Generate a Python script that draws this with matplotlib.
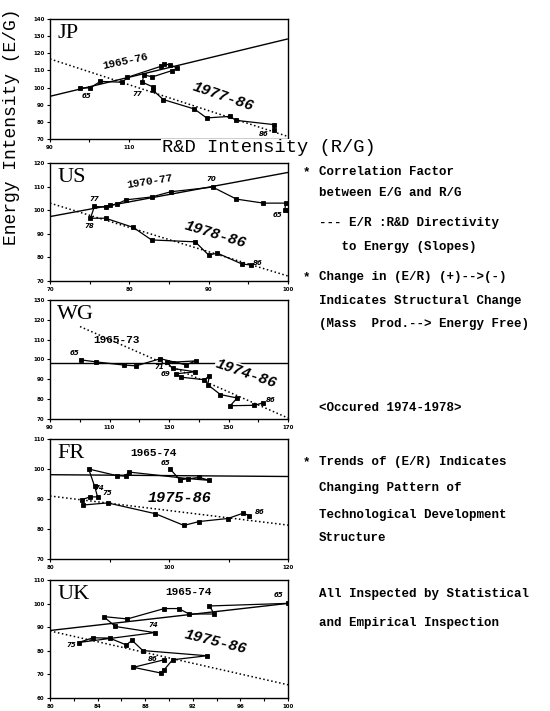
import numpy as np
import matplotlib.pyplot as plt

MONO = 'Liberation Mono'
SERIF = 'Liberation Serif'

# ---- JP ----
jp_x = [97.7, 100.2, 102.8, 108.4, 109.7, 118.2, 118.9, 120.5, 122.4, 121.0, 116.0,
        113.8, 113.5, 116.2, 116.2, 118.8, 126.7, 129.8, 135.8, 137.2, 146.9, 147.0]
jp_y = [99.8, 99.8, 103.6, 103.1, 106.0, 112.4, 113.8, 113.2, 111.4, 109.9, 106.2,
        107.5, 103.1, 100.3, 98.4, 93.0, 87.5, 82.3, 83.2, 80.9, 78.4, 75.1]
jp_fit_x, jp_fit_y = [90, 150.3], [94.9, 128.3]
jp_trend_x, jp_trend_y = [90, 150.3], [116.7, 71.6]

# ---- US ----
us_x = [100.0, 99.6, 99.7, 96.9, 93.5, 90.5, 85.2, 82.8, 79.6, 78.5, 77.5, 77.0,
        75.6, 75.1, 77.0, 80.5, 82.8, 88.3, 90.0, 91.1, 94.2, 95.3]
us_y = [99.9, 99.9, 103.0, 103.0, 104.7, 109.8, 107.8, 105.6, 104.4, 102.7, 102.0, 101.3,
        101.6, 96.6, 96.6, 92.7, 87.4, 86.6, 81.0, 81.8, 77.2, 76.8]
us_fit_x, us_fit_y = [70, 100], [97.3, 116.0]
us_trend_x, us_trend_y = [70, 100], [103.0, 72.1]

# ---- WG ----
wg_x = [100.4, 105.5, 114.8, 118.9, 127.1, 135.7, 139.1, 129.3, 131.2, 138.9, 132.4,
        134.0, 141.9, 143.6, 143.0, 147.3, 152.9, 150.6, 158.7, 161.5]
wg_y = [99.8, 98.8, 97.2, 96.8, 100.4, 97.3, 99.3, 98.5, 95.5, 93.8, 92.8,
        91.1, 89.8, 91.8, 87.3, 82.3, 80.6, 76.7, 76.9, 78.1]
wg_fit_x, wg_fit_y = [90, 170], [98.2, 98.2]
wg_trend_x, wg_trend_y = [100.1, 170], [116.6, 70.5]

# ---- FR ----
fr_x = [100.2, 101.8, 105.1, 106.8, 103.2, 93.2, 92.7, 91.2, 86.5, 87.5, 88.0,
        86.7, 85.4, 85.6, 89.7, 97.7, 102.5, 105.1, 109.9, 112.5, 113.5]
fr_y = [100.0, 96.4, 97.2, 96.2, 96.8, 99.0, 97.6, 97.8, 100.0, 94.2, 90.7,
        90.7, 89.8, 88.0, 88.7, 85.1, 81.2, 82.5, 83.5, 85.3, 84.4]
fr_fit_x, fr_fit_y = [80, 120], [98.1, 97.5]
fr_trend_x, fr_trend_y = [80, 120], [91.0, 81.3]

# ---- UK ----
uk_x = [100.0, 93.4, 93.8, 91.7, 90.8, 89.6, 86.5, 84.5, 85.5, 88.8, 82.4,
        83.6, 85.0, 86.4, 86.9, 87.8, 93.2, 90.3, 89.6, 89.3, 87.0, 89.6]
uk_y = [100.1, 99.0, 95.6, 95.6, 97.9, 97.9, 93.5, 94.5, 90.3, 87.7, 83.5,
        85.5, 85.4, 82.5, 84.4, 80.1, 77.9, 76.2, 72.0, 70.6, 73.0, 76.2]
uk_fit_x, uk_fit_y = [80, 100], [88.6, 100.1]
uk_trend_x, uk_trend_y = [80, 100], [88.4, 65.6]

notes = [
    ("*", "Correlation Factor", 172),
    ("", "between E/G and R/G", 193),
    ("", "--- E/R :R&D Directivity", 223),
    ("", "   to Energy (Slopes)", 247),
    ("*", "Change in (E/R) (+)-->(-)", 277),
    ("", "Indicates Structural Change", 301),
    ("", "(Mass  Prod.--> Energy Free)", 324),
    ("", "<Occured 1974-1978>", 408),
    ("*", "Trends of (E/R) Indicates", 462),
    ("", "Changing Pattern of", 488),
    ("", "Technological Development", 515),
    ("", "Structure", 538),
    ("", "All Inspected by Statistical", 594),
    ("", "and Empirical Inspection", 623),
]

W, H = 550, 711
fig = plt.figure(figsize=(5.5, 7.11), dpi=100)


def panel(top, bottom, xlim, ylim, xt, xlab_step, name, x, y, fx, fy, tx, ty):
    ax = fig.add_axes([50 / W, 1 - bottom / H, 238 / W, (bottom - top) / H])
    ax.plot(fx, fy, '-', color='black', lw=1.0)
    ax.plot(tx, ty, ':', color='black', lw=1.1)
    ax.plot(x, y, '-', color='black', lw=0.9, marker='s', ms=2.6,
            mfc='black', mec='black', mew=0.6)
    ax.set_xlim(*xlim)
    ax.set_ylim(*ylim)
    ticks = np.arange(xlim[0], xlim[1] + 0.01, xt)
    ax.set_xticks(ticks)
    ax.set_xticklabels([('%d' % t if (t - xlim[0]) % xlab_step == 0 else '') for t in ticks])
    ax.set_yticks(np.arange(ylim[0], ylim[1] + 0.01, 10))
    ax.tick_params(direction='out', length=2.5, width=0.8, labelsize=4, pad=1.5)
    for lab in ax.get_xticklabels() + ax.get_yticklabels():
        lab.set_fontweight('bold')
    for s in ax.spines.values():
        s.set_linewidth(1.0)
    ax.text(0.03, 0.96, name, transform=ax.transAxes, ha='left', va='top',
            fontsize=16, family=SERIF)
    return ax


def small(ax, x, y, s, rot=0, size=8):
    ax.text(x, y, s, ha='center', va='center', rotation=rot, fontsize=size,
            family=MONO, fontweight='bold')


def big(ax, x, y, s, rot=0, bg=False):
    kw = {}
    if bg:
        kw['bbox'] = dict(fc='white', ec='none', pad=0.3)
    ax.text(x, y, s, ha='center', va='center', rotation=rot, fontsize=11,
            family=MONO, style='italic', fontweight='bold', **kw)


def yr(ax, x, y, s):
    ax.text(x, y, s, ha='center', va='center', fontsize=5, style='italic',
            fontweight='bold')


ax = panel(19, 139, (90, 150.5), (70, 140), 10, 20, 'JP',
           jp_x, jp_y, jp_fit_x, jp_fit_y, jp_trend_x, jp_trend_y)
small(ax, 109.2, 115.3, '1965-76', rot=12)
big(ax, 134.1, 94.9, '1977-86', rot=-19)
yr(ax, 99.4, 94.9, '65'); yr(ax, 112.1, 96.4, '77'); yr(ax, 144.3, 73.0, '86')

ax = panel(163, 281, (70, 100), (70, 120), 5, 10, 'US',
           us_x, us_y, us_fit_x, us_fit_y, us_trend_x, us_trend_y)
small(ax, 82.6, 112.2, '1970-77', rot=9)
big(ax, 90.9, 89.5, '1978-86', rot=-17)
yr(ax, 75.6, 104.7, '77'); yr(ax, 74.9, 93.4, '78'); yr(ax, 90.3, 113.2, '70')
yr(ax, 98.7, 97.8, '65'); yr(ax, 96.2, 77.5, '86')

ax = panel(300, 419, (90, 170), (70, 130), 10, 20, 'WG',
           wg_x, wg_y, wg_fit_x, wg_fit_y, wg_trend_x, wg_trend_y)
small(ax, 112.5, 109.6, '1965-73', size=8)
big(ax, 155.9, 93.1, '1974-86', rot=-19, bg=True)
yr(ax, 98.4, 103.5, '65'); yr(ax, 126.8, 96.2, '71'); yr(ax, 128.7, 92.5, '69')
yr(ax, 164.3, 79.4, '86')

ax = panel(439, 559, (80, 120), (70, 110), 10, 20, 'FR',
           fr_x, fr_y, fr_fit_x, fr_fit_y, fr_trend_x, fr_trend_y)
small(ax, 97.4, 105.5, '1965-74')
big(ax, 101.8, 90.4, '1975-86')
yr(ax, 99.5, 102.1, '65'); yr(ax, 88.3, 93.6, '74'); yr(ax, 89.7, 91.9, '75')
yr(ax, 115.2, 85.7, '86')

ax = panel(580, 698, (80, 100), (60, 110), 2, 4, 'UK',
           uk_x, uk_y, uk_fit_x, uk_fit_y, uk_trend_x, uk_trend_y)
small(ax, 91.6, 105.1, '1965-74')
big(ax, 93.9, 84.0, '1975-86', rot=-14)
yr(ax, 99.2, 103.7, '65'); yr(ax, 88.7, 91.0, '74'); yr(ax, 81.8, 82.5, '75')
yr(ax, 88.6, 76.5, '86')

# axis titles
fig.text(12 / W, 1 - 127 / H, 'Energy Intensity (E/G)', rotation=90,
         ha='center', va='center', fontsize=13, family=MONO)
fig.text(162 / W, 1 - 148 / H, 'R&D Intensity (R/G)', ha='left', va='center',
         fontsize=13.5, family=MONO, bbox=dict(fc='white', ec='none', pad=0.5))

# notes on the right
for bullet, txt, ypix in notes:
    if bullet:
        fig.text(303 / W, 1 - ypix / H, bullet, ha='left', va='center',
                 fontsize=9, family=MONO, fontweight='bold')
    fig.text(319 / W, 1 - ypix / H, txt, ha='left', va='center',
             fontsize=9, family=MONO, fontweight='bold')

fig.savefig('out.png', dpi=100)
